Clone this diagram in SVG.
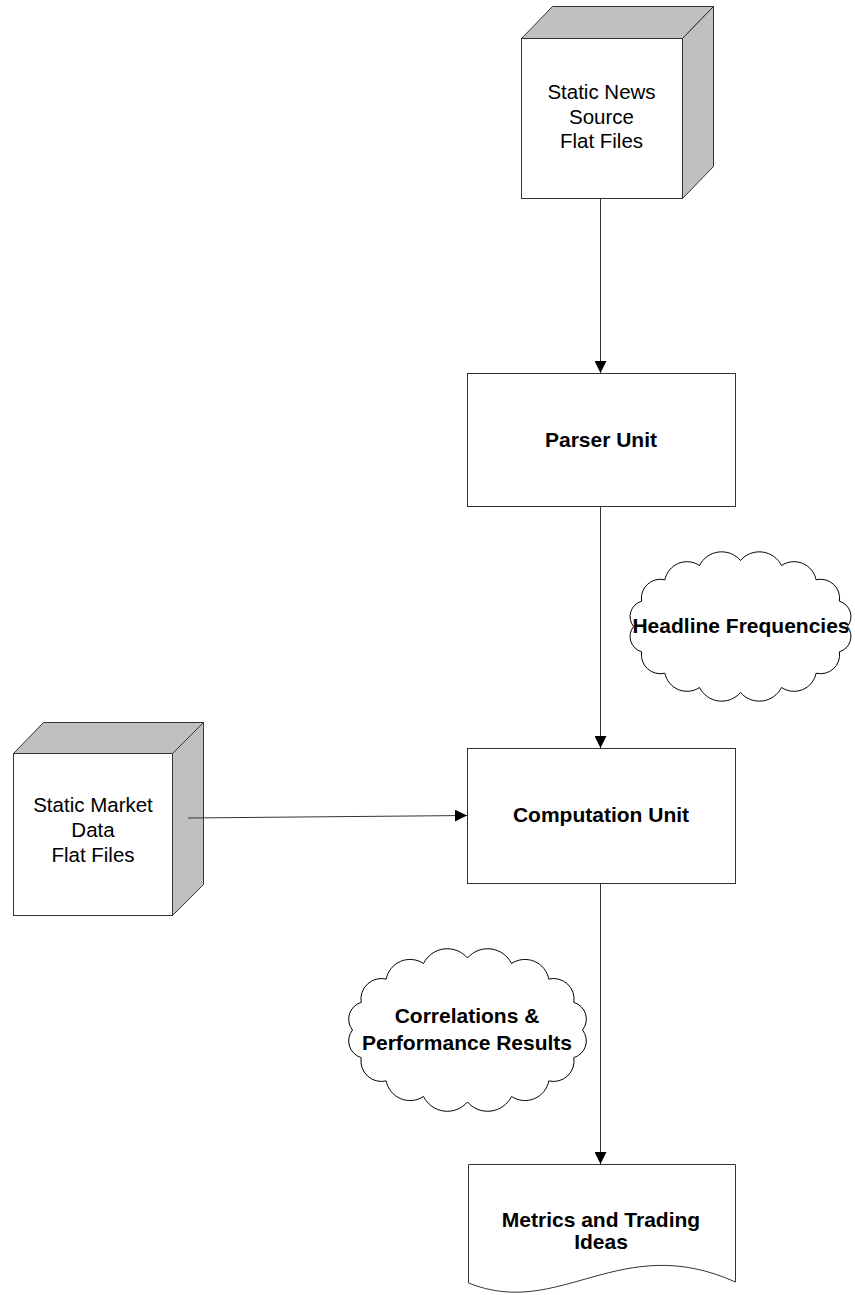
<svg xmlns="http://www.w3.org/2000/svg" width="855" height="1295" viewBox="0 0 855 1295">
  <style>
    .face { fill: #ffffff; stroke: #333333; stroke-width: 1; }
    .side { fill: #c0c0c0; stroke: #333333; stroke-width: 1; stroke-linejoin: round; }
    .box { fill: #ffffff; stroke: #333333; stroke-width: 1; }
    .cloud { fill: #ffffff; stroke: #000000; stroke-width: 1; stroke-linejoin: round; }
    .conn { fill: none; stroke: #333333; stroke-width: 1; }
    .lbl { font-family: "Liberation Sans", Arial, sans-serif; font-size: 20.5px; fill: #000000; text-anchor: middle; }
    .bold { font-family: "Liberation Sans", Arial, sans-serif; font-size: 21px; font-weight: bold; fill: #000000; text-anchor: middle; }
  </style>
  <defs>
    <marker id="arrow" markerUnits="userSpaceOnUse" markerWidth="13" markerHeight="12" refX="12" refY="6" orient="auto">
      <path d="M0,0 L12,6 L0,12 Z" fill="#000000"/>
    </marker>
  </defs>
  <rect width="855" height="1295" fill="#ffffff"/>

  <!-- data store: news source -->
  <g id="news-source">
    <polygon class="side" points="521.5,38.5 552.5,6.5 713.5,6.5 682.5,38.5"/>
    <polygon class="side" points="682.5,38.5 713.5,6.5 713.5,166.5 682.5,198.5"/>
    <rect class="face" x="521.5" y="38.5" width="161" height="160"/>
    <text class="lbl" x="601.5" y="99">Static News</text>
    <text class="lbl" x="601.5" y="123.5">Source</text>
    <text class="lbl" x="601.5" y="148">Flat Files</text>
  </g>

  <!-- process: parser -->
  <g id="parser-unit">
    <rect class="box" x="467.5" y="373.5" width="268" height="133"/>
    <text class="bold" x="601" y="447">Parser Unit</text>
  </g>

  <!-- annotation cloud: headline frequencies -->
  <g id="headline-frequencies">
    <path class="cloud" d="M847.5,626.5 A16,16 0 0 1 839.4,651.8 A19,19 0 0 1 816.1,673.2 A22.5,22.5 0 0 1 781.5,687.5 A24.8,24.8 0 0 1 740.5,692.5 A24.8,24.8 0 0 1 699.5,687.5 A22.5,22.5 0 0 1 664.9,673.2 A19,19 0 0 1 641.6,651.8 A16,16 0 0 1 633.5,626.5 A16,16 0 0 1 641.6,601.2 A19,19 0 0 1 664.9,579.8 A22.5,22.5 0 0 1 699.5,565.5 A24.8,24.8 0 0 1 740.5,560.5 A24.8,24.8 0 0 1 781.5,565.5 A22.5,22.5 0 0 1 816.1,579.8 A19,19 0 0 1 839.4,601.2 A16,16 0 0 1 847.5,626.5 Z"/>
    <text class="bold" x="741" y="633">Headline Frequencies</text>
  </g>

  <!-- data store: market data -->
  <g id="market-data">
    <polygon class="side" points="13.5,753.5 43.5,722.5 203.5,722.5 172.5,753.5"/>
    <polygon class="side" points="172.5,753.5 203.5,722.5 203.5,884.5 172.5,915.5"/>
    <rect class="face" x="13.5" y="753.5" width="159" height="162"/>
    <text class="lbl" x="93" y="812">Static Market</text>
    <text class="lbl" x="93" y="837">Data</text>
    <text class="lbl" x="93" y="862">Flat Files</text>
  </g>

  <!-- process: computation -->
  <g id="computation-unit">
    <rect class="box" x="467.5" y="748.5" width="268" height="135"/>
    <text class="bold" x="601" y="822">Computation Unit</text>
  </g>

  <!-- annotation cloud: results -->
  <g id="correlations-results">
    <path class="cloud" d="M582.5,1030 A17.4,17.4 0 0 1 573.8,1057.6 A20.5,20.5 0 0 1 548.8,1080.9 A24.3,24.3 0 0 1 511.5,1096.5 A26.6,26.6 0 0 1 467.5,1102 A26.6,26.6 0 0 1 423.5,1096.5 A24.3,24.3 0 0 1 386.2,1080.9 A20.5,20.5 0 0 1 361.2,1057.6 A17.4,17.4 0 0 1 352.5,1030 A17.4,17.4 0 0 1 361.2,1002.4 A20.5,20.5 0 0 1 386.2,979.1 A24.3,24.3 0 0 1 423.5,963.5 A26.6,26.6 0 0 1 467.5,958 A26.6,26.6 0 0 1 511.5,963.5 A24.3,24.3 0 0 1 548.8,979.1 A20.5,20.5 0 0 1 573.8,1002.4 A17.4,17.4 0 0 1 582.5,1030 Z"/>
    <text class="bold" x="467" y="1023">Correlations &amp;</text>
    <text class="bold" x="467" y="1050">Performance Results</text>
  </g>

  <!-- document: output -->
  <g id="metrics-ideas">
    <path class="box" d="M468.5,1164.5 L735.5,1164.5 L735.5,1282 C620,1230 560,1320 468.5,1283 Z"/>
    <text class="bold" x="601" y="1227">Metrics and Trading</text>
    <text class="bold" x="601" y="1249">Ideas</text>
  </g>

  <!-- connectors, drawn over the shapes -->
  <g id="connectors">
    <line class="conn" x1="600.5" y1="198" x2="600.5" y2="373" marker-end="url(#arrow)"/>
    <line class="conn" x1="600.5" y1="506" x2="600.5" y2="748" marker-end="url(#arrow)"/>
    <line class="conn" x1="188" y1="818" x2="467" y2="815.5" marker-end="url(#arrow)"/>
    <line class="conn" x1="600.5" y1="883" x2="600.5" y2="1164" marker-end="url(#arrow)"/>
  </g>
</svg>
